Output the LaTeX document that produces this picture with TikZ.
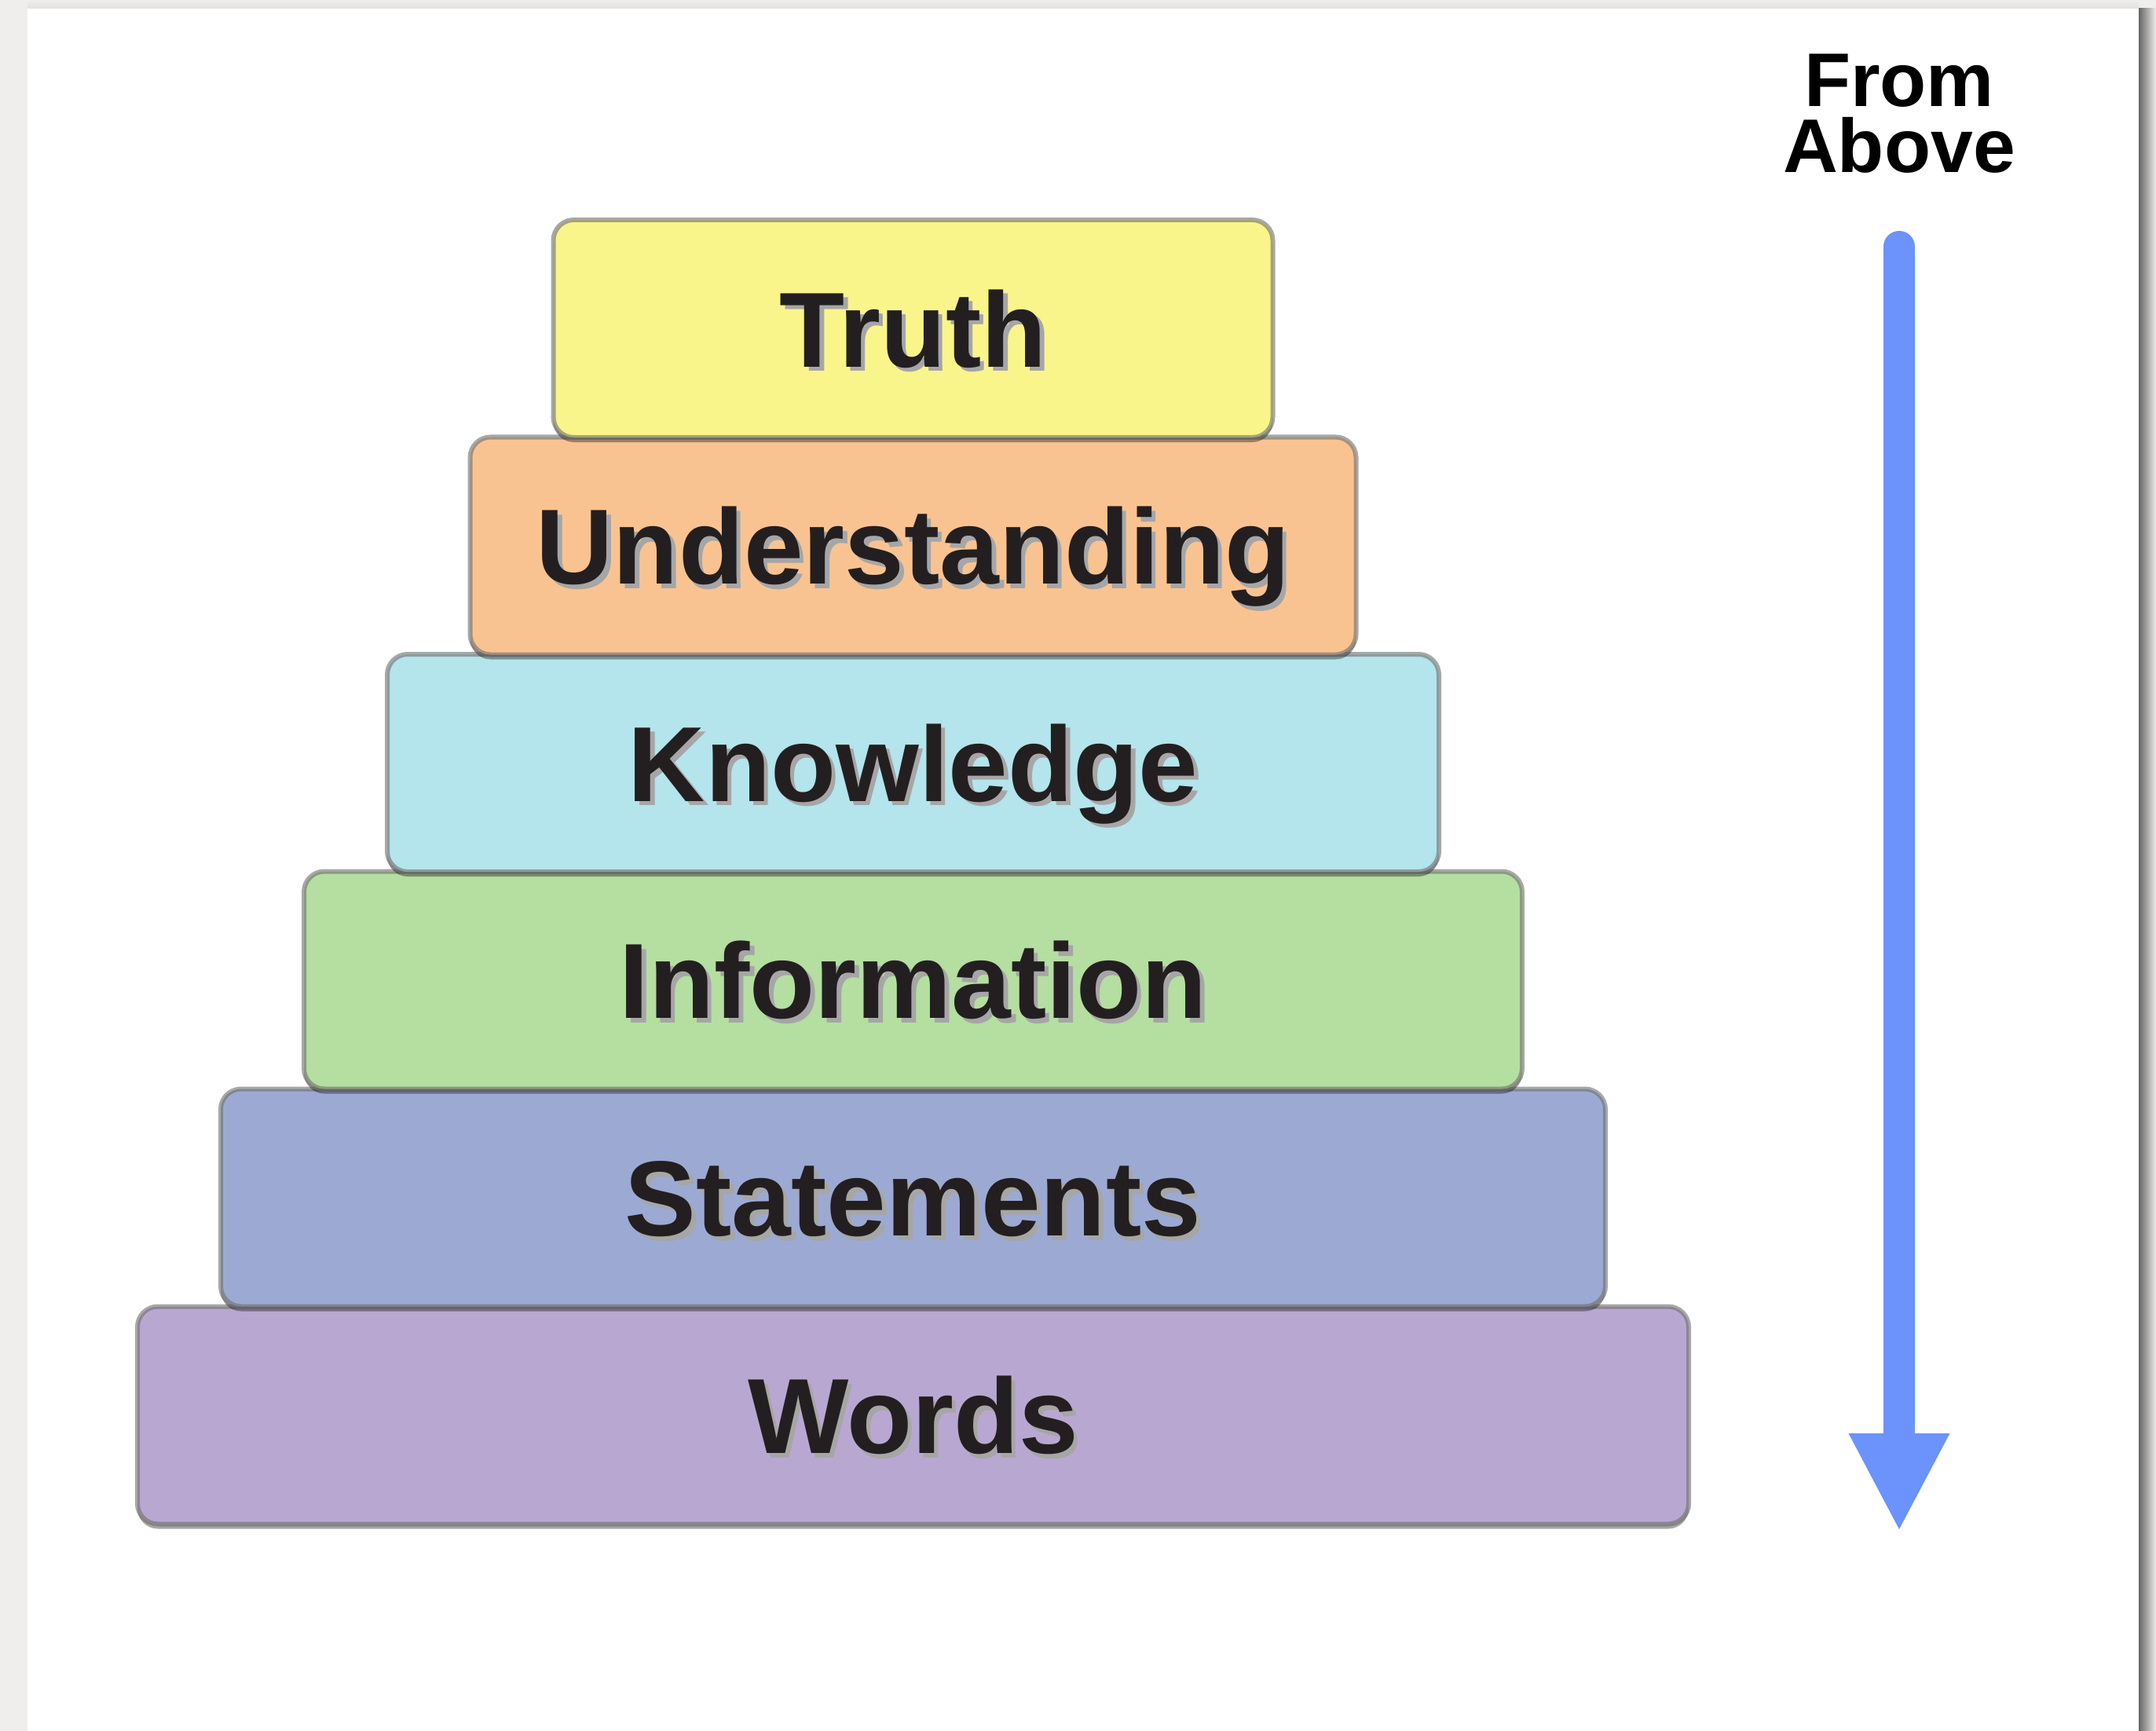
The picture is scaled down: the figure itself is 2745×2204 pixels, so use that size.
\documentclass[tikz,border=0pt]{standalone}
\usepackage{fontspec}
\setmainfont{Liberation Sans}
\usetikzlibrary{arrows.meta,shadows}

\definecolor{pagegrey}{RGB}{239,238,236}
\definecolor{truthfill}{RGB}{249,245,139}
\definecolor{understandfill}{RGB}{249,195,145}
\definecolor{knowfill}{RGB}{180,228,236}
\definecolor{infofill}{RGB}{181,222,161}
\definecolor{statefill}{RGB}{156,170,211}
\definecolor{wordsfill}{RGB}{184,168,209}
\definecolor{arrowblue}{RGB}{107,147,251}

\newcommand{\shadowed}[1]{\rlap{\kern1.4pt\raisebox{-1.4pt}{\textcolor{black!35}{#1}}}#1}

\tikzset{every picture/.style={line width=0.75pt}}
\tikzset{
  layer/.style={draw={rgb, 255:red, 110; green, 110; blue, 110 }, draw opacity=0.6, line width=1.5pt,
    rounded corners=6.5pt, minimum height=69.25pt, inner sep=0pt, outer sep=0pt,
    text height=24.4pt, text depth=0pt, font=\fontsize{34}{40}\selectfont\bfseries,
    text={rgb, 255:red, 35; green, 31; blue, 32 },
    drop shadow={shadow xshift=0pt, shadow yshift=-1.5pt, opacity=0.35, fill=black}},
  heading/.style={font=\fontsize{24.2}{21}\selectfont\bfseries, align=center, inner sep=0pt}
}

\begin{document}
\begin{tikzpicture}[x=0.25pt,y=0.25pt,yscale=-1,xscale=1]
	\useasboundingbox (0,0) rectangle (2745,2204);

	%Shape: page and sheet
	\fill[pagegrey] (0,0) rectangle (2745,2204);
	\shade[left color=black!60, right color=pagegrey] (2723,11) rectangle (2745,2204);
	\shade[top color=pagegrey, bottom color=black!12] (35,0) rectangle (2723,11);
	\fill[white] (35,11) rectangle (2723,2204);

	%Shape: Rounded Rectangles, bottom first so the upper ones cast on them
	\node[layer, fill=wordsfill, minimum width=493.75pt] (words) at (1162.5,1802) {\shadowed{Words}};
	\node[layer, fill=statefill, minimum width=440.75pt] (statements) at (1162.5,1525) {\shadowed{Statements}};
	\node[layer, fill=infofill, minimum width=387.75pt] (information) at (1162.5,1248) {\shadowed{Information}};
	\node[layer, fill=knowfill, minimum width=334.75pt] (knowledge) at (1162.5,971.5) {\shadowed{Knowledge}};
	\node[layer, fill=understandfill, minimum width=282pt] (understanding) at (1162.5,695) {\shadowed{Understanding}};
	\node[layer, fill=truthfill, minimum width=229pt] (truth) at (1162.5,418.5) {\shadowed{Truth}};

	% Text Node
	\node[heading, anchor=base] (fromabove) at (2418,220) {From\\Above};

	%Straight Lines: downward arrow
	\coordinate (arrowtop) at (2418,314);
	\coordinate (arrowtip) at (2418,1950);
	\draw[arrowblue, line width=10pt, line cap=round, -{Triangle[width=29.75pt,length=31.25pt]}] (arrowtop) -- (arrowtip);

\end{tikzpicture}
\end{document}
